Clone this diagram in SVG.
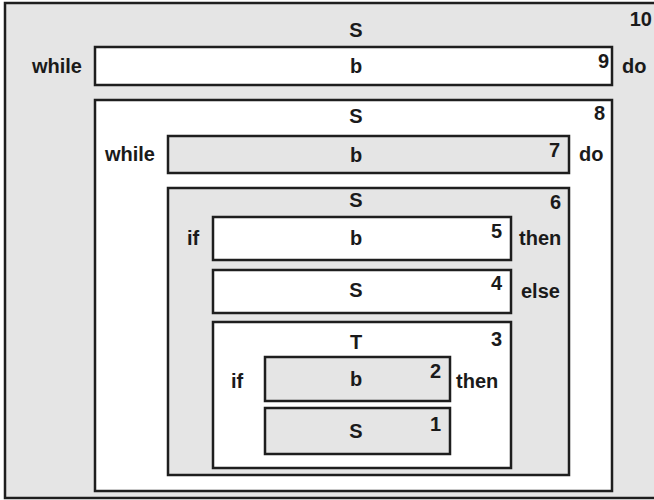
<svg xmlns="http://www.w3.org/2000/svg" width="654" height="500" viewBox="0 0 654 500">
  <style>
    .box { stroke: #1e1e1e; stroke-width: 2.5; }
    .grey { fill: #e5e5e5; }
    .white { fill: #ffffff; }
    text { font-family: "Liberation Sans", Arial, sans-serif; font-weight: bold; font-size: 20px; fill: #1a1a1a; }
    .c { text-anchor: middle; }
    .n { text-anchor: end; }
  </style>

  <!-- 10: while b do S -->
  <g id="node10">
    <rect class="box grey" x="5" y="3" width="660" height="495"/>
    <text class="c" x="356" y="37">S</text>
    <text class="n" x="652" y="26">10</text>
    <text class="c" x="57" y="73">while</text>
    <text x="622" y="73">do</text>
  </g>

  <g id="node9">
    <rect class="box white" x="95" y="47" width="517" height="38"/>
    <text class="c" x="356" y="73">b</text>
    <text class="n" x="609" y="68">9</text>
  </g>

  <!-- 8: while b do S -->
  <g id="node8">
    <rect class="box white" x="95" y="100" width="517" height="391"/>
    <text class="c" x="356" y="123">S</text>
    <text class="n" x="605" y="120">8</text>
    <text class="c" x="130" y="161">while</text>
    <text x="579" y="161">do</text>
  </g>

  <g id="node7">
    <rect class="box grey" x="168" y="136" width="401" height="37"/>
    <text class="c" x="356" y="162">b</text>
    <text class="n" x="560" y="157">7</text>
  </g>

  <!-- 6: if b then S else S -->
  <g id="node6">
    <rect class="box grey" x="168" y="188" width="401" height="287"/>
    <text class="c" x="356" y="207">S</text>
    <text class="n" x="561" y="209">6</text>
    <text class="c" x="193" y="245">if</text>
    <text x="519" y="245">then</text>
    <text x="521" y="298">else</text>
  </g>

  <g id="node5">
    <rect class="box white" x="213" y="217" width="298" height="43"/>
    <text class="c" x="356" y="245">b</text>
    <text class="n" x="502" y="238">5</text>
  </g>

  <g id="node4">
    <rect class="box white" x="213" y="270" width="298" height="43"/>
    <text class="c" x="356" y="297">S</text>
    <text class="n" x="502" y="290">4</text>
  </g>

  <!-- 3: if b then S -->
  <g id="node3">
    <rect class="box white" x="213" y="322" width="298" height="146"/>
    <text class="c" x="356" y="349">T</text>
    <text class="n" x="502" y="346">3</text>
    <text class="c" x="237" y="388">if</text>
    <text x="456" y="388">then</text>
  </g>

  <g id="node2">
    <rect class="box grey" x="265" y="357" width="185" height="44"/>
    <text class="c" x="356" y="386">b</text>
    <text class="n" x="441" y="378">2</text>
  </g>

  <g id="node1">
    <rect class="box grey" x="265" y="408" width="185" height="46"/>
    <text class="c" x="356" y="438">S</text>
    <text class="n" x="441" y="431">1</text>
  </g>
</svg>
